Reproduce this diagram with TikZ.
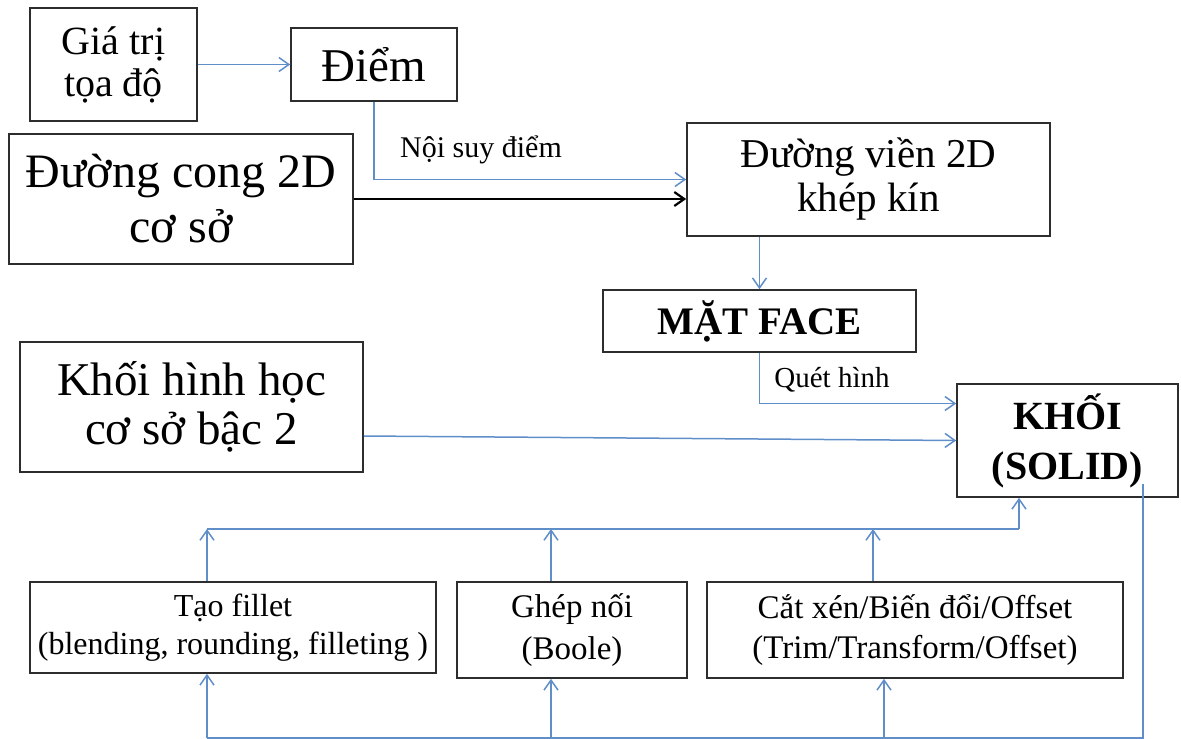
\documentclass[tikz,border=0pt]{standalone}
\usepackage{fontspec}
\setmainfont{Liberation Serif}
\usetikzlibrary{arrows.meta,calc}
\definecolor{lineblue}{RGB}{96,142,201}
\definecolor{boxgray}{RGB}{45,45,45}
\begin{document}
\begin{tikzpicture}[x=1pt,y=-1pt,
  box/.style={draw=boxgray,line width=1.6pt,inner sep=0pt,align=center,anchor=center},
  bluearrow/.style={draw=lineblue,line width=1.5pt,-{Straight Barb[length=10pt,width=14pt,line width=1.5pt]}},
  blueline/.style={draw=lineblue,line width=1.5pt},
  blackarrow/.style={draw=black,line width=2.4pt,-{Straight Barb[length=10pt,width=14pt,line width=2.2pt]}},
  lbl/.style={inner sep=0pt,anchor=center}]
\useasboundingbox (0,0) rectangle (1181,739);

% boxes
\node[box,minimum width=167pt,minimum height=113pt,font={\fontsize{40}{42}\selectfont}] (gia) at (113.5,64.5) {Giá trị\\tọa độ};
\node[box,minimum width=166pt,minimum height=73pt,font={\fontsize{47}{50}\selectfont}] (diem) at (374,64.5) {Điểm};
\node[box,minimum width=344pt,minimum height=130pt,font={\fontsize{48}{55}\selectfont}] (cong) at (181,199) {Đường cong 2D\\cơ sở};
\node[box,minimum width=363pt,minimum height=113pt,font={\fontsize{41}{44}\selectfont}] (vien) at (868.5,179.5) {Đường viền 2D\\khép kín};
\node[box,minimum width=313pt,minimum height=62pt,font={\fontsize{39}{42}\selectfont\bfseries}] (face) at (759.5,321) {MẶT FACE};
\node[box,minimum width=221pt,minimum height=113pt,font={\fontsize{40}{50}\selectfont\bfseries}] (solid) at (1067.5,440.5) {KHỐI\\(SOLID)};
\node[box,minimum width=343pt,minimum height=130pt,font={\fontsize{47}{49}\selectfont}] (hh) at (191.5,407) {Khối hình học\\cơ sở bậc 2};
\node[box,minimum width=406pt,minimum height=91pt,font={\fontsize{32}{38}\selectfont}] (fillet) at (233,627.5) {Tạo fillet\\(blending, rounding, filleting )};
\node[box,minimum width=230pt,minimum height=96pt,font={\fontsize{33}{42}\selectfont}] (ghep) at (572,630) {Ghép nối\\(Boole)};
\node[box,minimum width=416pt,minimum height=96pt,font={\fontsize{33}{40}\selectfont}] (cat) at (915,630) {Cắt xén/Biến đổi/Offset\\(Trim/Transform/Offset)};

% labels
\node[lbl,font={\fontsize{30}{32}\selectfont}] (lnoisuy) at (481,150) {Nội suy điểm};
\node[lbl,font={\fontsize{29}{31}\selectfont}] (lquet) at (832,380) {Quét hình};

% upper connectors
\draw[bluearrow] (gia.east) -- (diem.west);
\draw[bluearrow] (diem.south) |- (vien.west);
\draw[blackarrow] (cong.east) -- (cong.east -| vien.west);
\draw[bluearrow] (face.north |- vien.south) -- (face.north);
\draw[bluearrow] (face.south) |- ($(solid.west)+(0,-37)$);
\draw[bluearrow] ($(hh.east)+(0,29)$) -- (solid.west);

% top bus
\coordinate (t1) at (207,529);
\coordinate (t2) at (551,529);
\coordinate (t3) at (873,529);
\coordinate (t4) at (1019,529);
\draw[bluearrow] (fillet.north -| t1) -- (t1);
\draw[bluearrow] (ghep.north -| t2) -- (t2);
\draw[bluearrow] (cat.north -| t3) -- (t3);
\draw[blueline] (t1) -- (t4);
\draw[bluearrow] (t4) -- (solid.south -| t4);

% bottom bus
\coordinate (b1) at (207,738);
\coordinate (b2) at (551,738);
\coordinate (b3) at (884,738);
\coordinate (b4) at (1143,738);
\coordinate (s0) at (1143,484);
\draw[blueline] (s0) -- (b4) -- (b1);
\draw[bluearrow] (b1) -- (fillet.south -| b1);
\draw[bluearrow] (b2) -- (ghep.south -| b2);
\draw[bluearrow] (b3) -- (cat.south -| b3);
\end{tikzpicture}
\end{document}
